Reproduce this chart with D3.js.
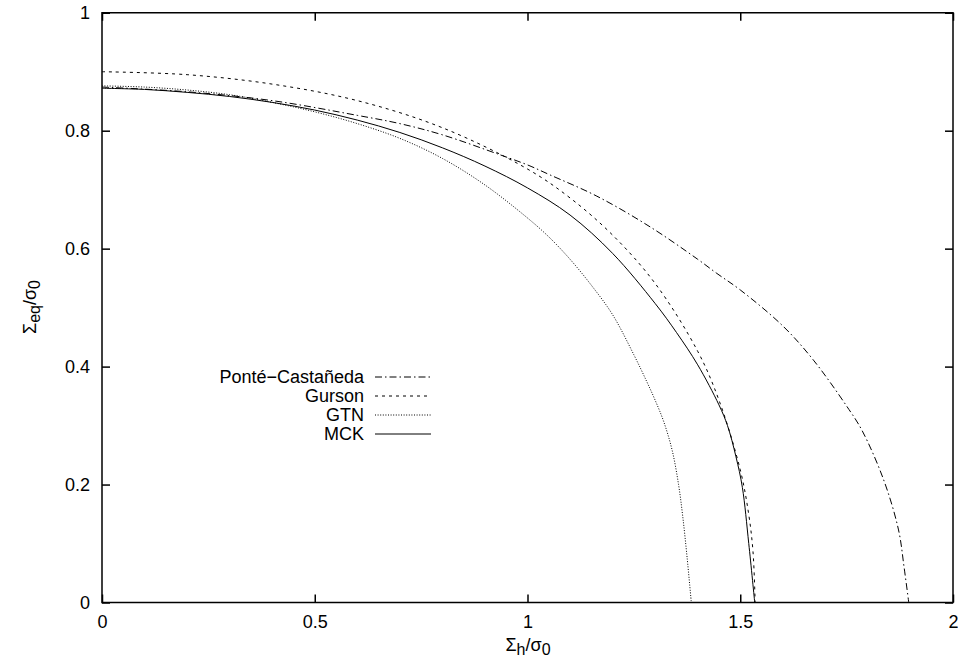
<!DOCTYPE html>
<html>
<head>
<meta charset="utf-8">
<script src="https://cdn.jsdelivr.net/npm/d3@7"></script>
<style>
  body { margin: 0; background: #fff; }
  text { font-family: "Liberation Sans", Arial, Helvetica, sans-serif; font-size: 18px; fill: #000; }
</style>
</head>
<body>
<div id="vis_canvas"></div>
<script>
// values: [Sigma_h/sigma_0, Sigma_eq/sigma_0]
var pc_data = [
    [0, 0.874], [0.2, 0.866], [0.4, 0.851], [0.6, 0.826], [0.7, 0.812], [0.8, 0.793],
    [0.936, 0.759], [1.0, 0.742], [1.053, 0.725], [1.163, 0.689], [1.288, 0.637],
    [1.4, 0.582], [1.445, 0.558], [1.5, 0.530], [1.6, 0.469], [1.672, 0.411],
    [1.751, 0.332], [1.786, 0.292], [1.837, 0.208], [1.872, 0.123], [1.885, 0.06], [1.896, 0]
];
var gurson_data = [
    [0, 0.900], [0.2, 0.895], [0.4, 0.879], [0.6, 0.851], [0.8, 0.805], [1.0, 0.735],
    [1.1, 0.686], [1.2, 0.623], [1.3, 0.541], [1.4, 0.426], [1.45, 0.343],
    [1.5, 0.225], [1.52, 0.149], [1.53, 0.086], [1.535, 0]
];
var gtn_data = [
    [0, 0.876], [0.1, 0.874], [0.2, 0.869], [0.3, 0.861], [0.4, 0.848], [0.5, 0.832],
    [0.6, 0.812], [0.7, 0.787], [0.8, 0.753], [0.9, 0.708], [1.0, 0.652], [1.05, 0.620],
    [1.1, 0.582], [1.15, 0.538], [1.2, 0.488], [1.25, 0.420], [1.28, 0.375], [1.3, 0.343],
    [1.32, 0.307], [1.34, 0.258], [1.355, 0.200], [1.365, 0.145], [1.375, 0.077], [1.385, 0]
];
var mck_data = [
    [0, 0.872], [0.1, 0.870], [0.2, 0.865], [0.3, 0.858], [0.4, 0.848], [0.5, 0.835],
    [0.6, 0.818], [0.7, 0.797], [0.8, 0.771], [0.9, 0.740], [1.0, 0.703], [1.1, 0.657],
    [1.2, 0.592], [1.3, 0.507], [1.35, 0.458], [1.4, 0.403], [1.45, 0.335], [1.47, 0.300],
    [1.49, 0.247], [1.505, 0.195], [1.52, 0.100], [1.534, 0]
];
var series_names = ["Pont\u00e9\u2212Casta\u00f1eda", "Gurson", "GTN", "MCK"];
var x_ticks = [0, 0.5, 1, 1.5, 2];
var y_ticks = [0, 0.2, 0.4, 0.6, 0.8, 1];

var margin = {top: 12.75, right: 5, bottom: 62.5, left: 102},
    width = 958 - margin.left - margin.right,
    height = 665 - margin.top - margin.bottom;

var x = d3.scaleLinear().domain([0, 2]).range([0, width]);
var y = d3.scaleLinear().domain([0, 1]).range([height, 0]);

var dashes = ["7,3,1.5,3", "3,4", "1,1.6", null];
var allData = [pc_data, gurson_data, gtn_data, mck_data];

var svg = d3.select("#vis_canvas").append("svg")
    .attr("width", 958)
    .attr("height", 665);
var g = svg.append("g")
    .attr("transform", "translate(" + margin.left + "," + margin.top + ")");

var tickLen = 8;
var fmt = function (d) { return d3.format("")(d); };

// bottom & top axes (ticks inward)
g.append("g").attr("transform", "translate(0," + height + ")")
    .call(d3.axisBottom(x).tickValues(x_ticks).tickFormat(fmt).tickSizeInner(-tickLen).tickSizeOuter(0).tickPadding(13))
    .call(function (a) { a.select(".domain").remove(); });
g.append("g")
    .call(d3.axisTop(x).tickValues(x_ticks).tickFormat("").tickSizeInner(-tickLen).tickSizeOuter(0))
    .call(function (a) { a.select(".domain").remove(); });
// left & right axes
g.append("g")
    .call(d3.axisLeft(y).tickValues(y_ticks).tickFormat(fmt).tickSizeInner(-tickLen).tickSizeOuter(0).tickPadding(12))
    .call(function (a) { a.select(".domain").remove(); });
g.append("g").attr("transform", "translate(" + width + ",0)")
    .call(d3.axisRight(y).tickValues(y_ticks).tickFormat("").tickSizeInner(-tickLen).tickSizeOuter(0))
    .call(function (a) { a.select(".domain").remove(); });

g.selectAll(".tick line").attr("stroke", "#000").attr("stroke-width", 1.5);
g.selectAll(".tick text").attr("font-size", null).attr("font-family", null);

// frame
g.append("rect")
    .attr("width", width).attr("height", height)
    .attr("fill", "none").attr("stroke", "#000").attr("stroke-width", 1.5);

// curves
var line = d3.line()
    .x(function (d) { return x(d[0]); })
    .y(function (d) { return y(d[1]); })
    .curve(d3.curveCatmullRom.alpha(0.5));

g.selectAll(".curve")
    .data(allData)
    .enter().append("path")
    .attr("class", "curve")
    .attr("d", line)
    .attr("fill", "none")
    .attr("stroke", "#000")
    .attr("stroke-width", 1)
    .attr("stroke-dasharray", function (d, i) { return dashes[i]; });

// legend
var legend = svg.selectAll(".legend")
    .data(series_names)
    .enter().append("g")
    .attr("class", "legend")
    .attr("transform", function (d, i) { return "translate(0," + (377 + i * 19) + ")"; });
legend.append("text")
    .attr("x", 364)
    .attr("dy", "0.35em")
    .style("text-anchor", "end")
    .text(function (d) { return d; });
legend.append("line")
    .attr("x1", 375).attr("x2", 431)
    .attr("stroke", "#000").attr("stroke-width", 1)
    .attr("stroke-dasharray", function (d, i) { return dashes[i]; });

// axis titles
var xt = svg.append("text")
    .attr("x", 528).attr("y", 651)
    .style("text-anchor", "middle");
xt.append("tspan").text("\u03a3");
xt.append("tspan").attr("baseline-shift", "-25%").attr("font-size", "16px").text("h");
xt.append("tspan").text("/\u03c3");
xt.append("tspan").attr("baseline-shift", "-25%").attr("font-size", "16px").text("0");

var yt = svg.append("text")
    .attr("transform", "translate(36,307) rotate(-90)")
    .style("text-anchor", "middle");
yt.append("tspan").text("\u03a3");
yt.append("tspan").attr("baseline-shift", "-25%").attr("font-size", "16px").text("eq");
yt.append("tspan").text("/\u03c3");
yt.append("tspan").attr("baseline-shift", "-25%").attr("font-size", "16px").text("0");
</script>
</body>
</html>
